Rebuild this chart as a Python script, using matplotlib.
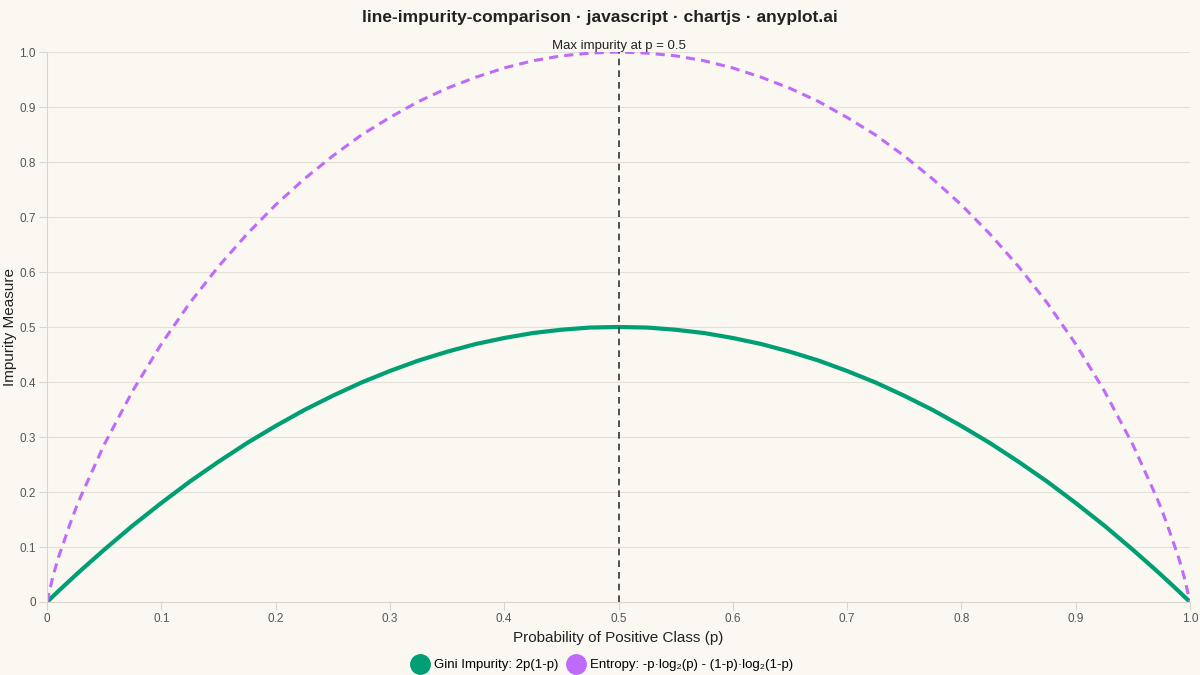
import matplotlib
matplotlib.use("Agg")
import matplotlib.pyplot as plt
from matplotlib.lines import Line2D

p_half = [0, 0.005, 0.01, 0.02, 0.025, 0.03, 0.05, 0.075, 0.1, 0.125, 0.15, 0.175, 0.2, 0.225, 0.25, 0.275,
          0.3, 0.325, 0.35, 0.375, 0.4, 0.425, 0.45, 0.475, 0.5]
entropy_half = [0, 0.045, 0.081, 0.141, 0.169, 0.194, 0.286, 0.384, 0.469, 0.544, 0.610, 0.669, 0.722, 0.769,
                0.811, 0.849, 0.881, 0.910, 0.934, 0.954, 0.971, 0.984, 0.993, 0.998, 1.0]
gini_half = [0, 0.00995, 0.0198, 0.0392, 0.0488, 0.0582, 0.095, 0.139, 0.18, 0.219, 0.255, 0.289, 0.32, 0.349,
             0.375, 0.399, 0.42, 0.439, 0.455, 0.469, 0.48, 0.489, 0.495, 0.499, 0.5]

p = p_half + [round(1 - v, 3) for v in reversed(p_half[:-1])]
entropy = entropy_half + list(reversed(entropy_half[:-1]))
gini = gini_half + list(reversed(gini_half[:-1]))

xticks = [0, 0.1, 0.2, 0.3, 0.4, 0.5, 0.6, 0.7, 0.8, 0.9, 1.0]
yticks = [0, 0.1, 0.2, 0.3, 0.4, 0.5, 0.6, 0.7, 0.8, 0.9, 1.0]

bg = "#FAF8F1"
plt.rcParams['font.family'] = ['Liberation Sans', 'DejaVu Sans']
fig = plt.figure(figsize=(12, 6.75), dpi=100, facecolor=bg)
ax = fig.add_axes([47/1200, 1-602/675, 1143/1200, 550/675], facecolor=bg)

ax.plot(p, gini, color="#009E73", lw=3, solid_capstyle='round', solid_joinstyle='round')
ax.plot(p, entropy, color="#BF6BFA", lw=2.2, ls=(0, (3, 2)))
ax.axvline(0.5, color="#333333", lw=1.2, ls=(0, (4, 3)))
ax.text(0.5, 1.0, "Max impurity at p = 0.5", ha='center', va='bottom', fontsize=9.5, color="#222222")

ax.set_xlim(0, 1); ax.set_ylim(0, 1)
ax.set_xticks(xticks); ax.set_yticks(yticks)
ax.set_xticklabels(["0" if v == 0 else f"{v:.1f}" for v in xticks], fontsize=8.5, color="#555555")
ax.set_yticklabels(["0" if v == 0 else f"{v:.1f}" for v in yticks], fontsize=8.5, color="#555555")
ax.grid(True, axis='y', color="#E3E0D8", lw=0.8)
ax.set_axisbelow(True)
for s in ax.spines.values():
    s.set_visible(False)
ax.spines['left'].set_visible(True); ax.spines['left'].set_color("#D8D5CC")
ax.spines['bottom'].set_visible(True); ax.spines['bottom'].set_color("#D8D5CC")
ax.tick_params(length=6, color="#D8D5CC", pad=2)
ax.set_xlabel("Probability of Positive Class (p)", fontsize=11, color="#222222", labelpad=4)
ax.set_ylabel("Impurity Measure", fontsize=11, color="#222222", labelpad=2)

fig.suptitle("line-impurity-comparison · javascript · chartjs · anyplot.ai", fontsize=12.5, fontweight='bold', y=0.985, color="#222222")

handles = [Line2D([], [], marker='o', ls='', ms=14, color="#009E73"),
           Line2D([], [], marker='o', ls='', ms=14, color="#BF6BFA")]
fig.legend(handles, ["Gini Impurity: 2p(1-p)", "Entropy: -p·log₂(p) - (1-p)·log₂(1-p)"],
           loc='lower center', bbox_to_anchor=(0.5, -0.012), ncol=2, frameon=False,
           fontsize=9.5, handletextpad=0.05, columnspacing=0.3)

fig.savefig("out.png", facecolor=bg)
